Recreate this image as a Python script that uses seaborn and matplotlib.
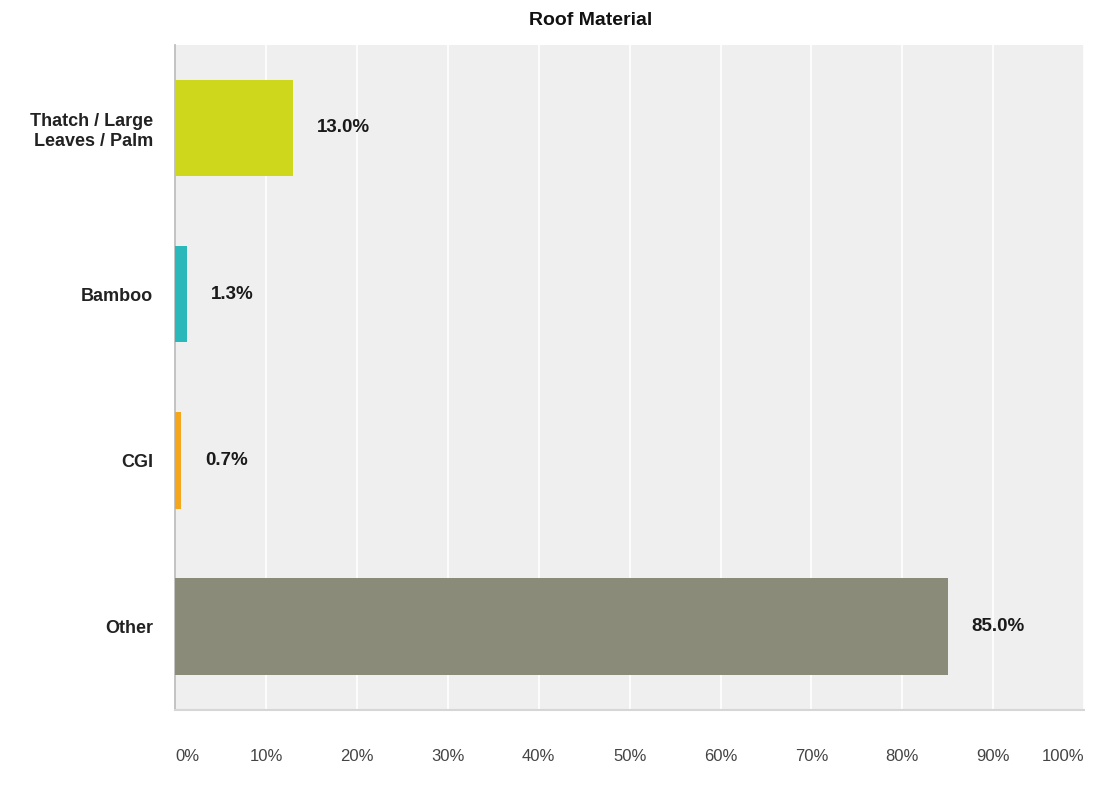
import matplotlib
matplotlib.use("Agg")
import matplotlib.pyplot as plt
import seaborn as sns
import pandas as pd

# ---- chart data ----
categories = ["Thatch / Large\nLeaves / Palm", "Bamboo", "CGI", "Other"]
shares = [13.0, 1.3, 0.7, 85.0]
bar_colors = ["#cfd71c", "#2bb8ba", "#f4a71d", "#8a8b79"]
x_ticks = [0, 10, 20, 30, 40, 50, 60, 70, 80, 90, 100]

df = pd.DataFrame({"category": categories, "share": shares})

sns.set_theme(style="white")
plt.rcParams["font.family"] = ["Liberation Sans", "DejaVu Sans"]

fig = plt.figure(figsize=(10.94, 8.01), dpi=100)
ax = fig.add_axes([0.16, 0.114, 0.831, 0.83])
ax.set_facecolor("#efefef")

sns.barplot(data=df, y="category", x="share", hue="category",
            palette=bar_colors, legend=False, width=0.58,
            saturation=1, linewidth=0, ax=ax, zorder=3)

ax.set_xlim(0, 100)
ax.set_ylim(3.5, -0.5)
ax.set_xticks(x_ticks)
ax.set_xticklabels([f"{t}%" for t in x_ticks], color="#444444", fontsize=12)
# keep the last label inside the figure
xlabels = ax.get_xticklabels()
xlabels[0].set_horizontalalignment("left")
xlabels[-1].set_horizontalalignment("right")
ax.tick_params(axis="x", length=0, pad=28)
ax.tick_params(axis="y", length=0, pad=16)
for lbl in ax.get_yticklabels():
    lbl.set_fontweight("bold")
    lbl.set_fontsize(13)
    lbl.set_color("#222222")
    lbl.set_horizontalalignment("right")
    lbl.set_linespacing(1.25)

ax.grid(axis="x", color="white", linewidth=1.2, zorder=1)
ax.set_axisbelow(True)
ax.set_xlabel("")
ax.set_ylabel("")

for side in ["top", "right"]:
    ax.spines[side].set_visible(False)
ax.spines["left"].set_color("#bbbbbb")
ax.spines["bottom"].set_color("#d6d6d6")
ax.spines["bottom"].set_linewidth(1.5)

# value labels next to the bars
for i, v in enumerate(shares):
    ax.text(v + 2.6, i, f"{v:.1f}%", va="center", ha="left",
            fontsize=13.5, fontweight="bold", color="#1a1a1a", zorder=4)

fig.suptitle("Roof Material", x=0.54, y=0.985, fontsize=14,
             fontweight="bold", color="#111111")

fig.savefig("out.png", dpi=100)
